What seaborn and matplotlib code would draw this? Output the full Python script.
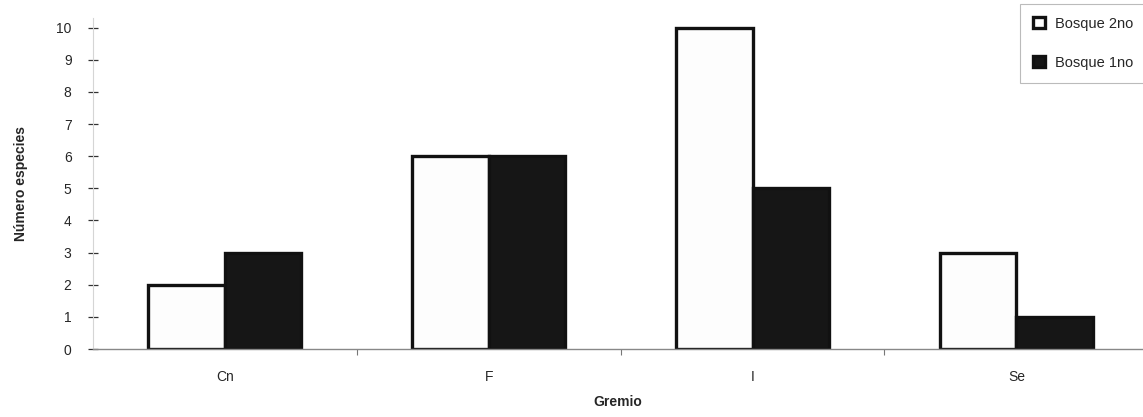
import matplotlib
matplotlib.use("Agg")
import matplotlib.pyplot as plt
import seaborn as sns
import pandas as pd

# Species counts per feeding guild in each forest type
gremios = ["Cn", "F", "I", "Se"]
bosque_2no = [2, 6, 10, 3]
bosque_1no = [3, 6, 5, 1]
series = ["Bosque 2no", "Bosque 1no"]

df = pd.DataFrame({
    "Gremio": gremios * 2,
    "Número especies": bosque_2no + bosque_1no,
    "Bosque": [series[0]] * len(gremios) + [series[1]] * len(gremios),
})

sns.set_theme(style="white")
plt.rcParams["font.family"] = ["Liberation Sans", "DejaVu Sans"]

fig = plt.figure(figsize=(11.43, 4.17), dpi=100)
ax = fig.add_axes([0.0814, 0.163, 0.9186, 0.794])

sns.barplot(
    data=df, x="Gremio", y="Número especies", hue="Bosque",
    hue_order=series, order=gremios,
    palette={series[0]: "#fdfdfd", series[1]: "#161616"},
    width=0.58, gap=0, edgecolor="#111111", linewidth=2.4,
    saturation=1, ax=ax,
)

ax.set_xlim(-0.5, 3.48)
ax.set_ylim(0, 10.3)
ax.set_yticks(range(0, 11))
ax.set_yticklabels([str(v) for v in range(0, 11)], fontsize=10)
ax.set_xticks(range(len(gremios)))
ax.set_xticklabels(gremios, fontsize=10)
ax.set_xticks([0.5, 1.5, 2.5], minor=True)
ax.tick_params(axis="x", which="major", bottom=False, length=0, pad=15)
ax.tick_params(axis="x", which="minor", bottom=True, length=4, direction="out",
               color="#777777", width=0.8)
ax.tick_params(axis="y", which="major", left=True, length=7, direction="inout",
               color="#333333", width=0.9, pad=12)

for side in ("top", "right"):
    ax.spines[side].set_visible(False)
ax.spines["left"].set_color("#d5d5d5")
ax.spines["left"].set_linewidth(0.8)
ax.spines["bottom"].set_color("#888888")
ax.spines["bottom"].set_linewidth(1.0)

ax.set_xlabel("Gremio", fontsize=10, fontweight="bold", va="center")
ax.xaxis.set_label_coords(0.5, -0.16)
ax.set_ylabel("Número especies", fontsize=10, fontweight="bold", labelpad=20)

leg = ax.legend(
    loc="upper right", bbox_to_anchor=(1.01, 1.065), frameon=True,
    fontsize=10.5, handlelength=0.8, handleheight=0.8, labelspacing=1.7,
    borderpad=0.9, handletextpad=0.7, fancybox=False,
)
leg.get_frame().set_edgecolor("#aaaaaa")
leg.get_frame().set_linewidth(0.8)

fig.savefig("out.png", dpi=100, facecolor="white")
